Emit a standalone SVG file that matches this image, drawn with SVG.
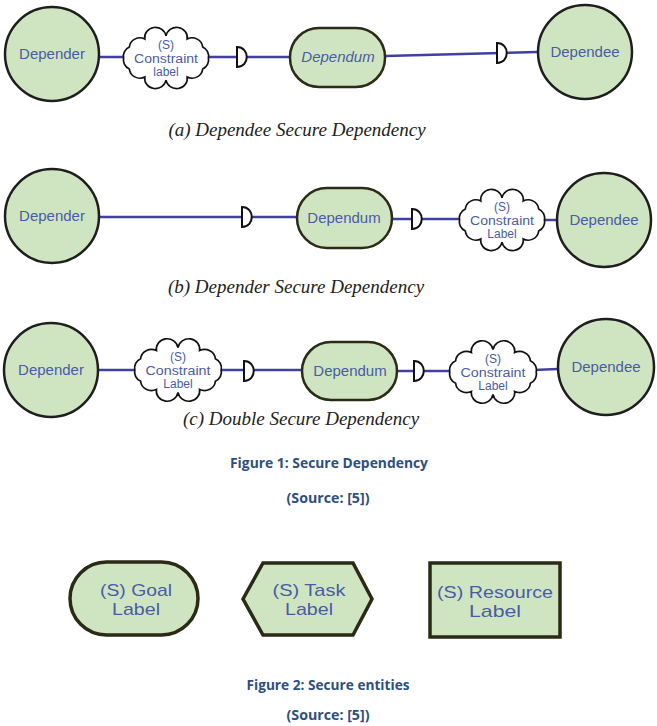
<svg xmlns="http://www.w3.org/2000/svg" xmlns:xlink="http://www.w3.org/1999/xlink" width="657" height="726" viewBox="0 0 657 726">
<style>
.actor{fill:#cfe5c1;stroke:#1e1e1e;stroke-width:2.5}
.dum{fill:#cfe5c1;stroke:#2b2b18;stroke-width:2.5}
.lbl{font-family:"Liberation Sans",Arial,sans-serif;font-size:15px;fill:#4a5ba6;text-anchor:middle}
.cl{font-family:"Liberation Sans",Arial,sans-serif;font-size:12px;fill:#4a5ba6;text-anchor:middle}
.big{font-family:"Liberation Sans",Arial,sans-serif;font-size:17px;fill:#4a5ba6;text-anchor:middle}
.cap{font-family:"Liberation Serif","Times New Roman",serif;font-style:italic;font-size:19px;fill:#222;text-anchor:middle}
.fig{font-family:"Open Sans","Liberation Sans",sans-serif;font-weight:bold;font-size:14px;fill:#2d4f82;text-anchor:middle}
.ln{stroke:#4040a2;stroke-width:2.5;fill:none}
.ent{fill:#cfe5c1;stroke:#2a2a15;stroke-width:3.5}
</style>
<defs>
<path id="cloud" d="M-40,0 A10,10 0 0 1 -34.6,-11 A10,10 0 0 1 -20,-19 A10,10 0 0 1 0,-22 A10,10 0 0 1 20,-19 A10,10 0 0 1 34.6,-11 A10,10 0 0 1 40,0 A10,10 0 0 1 34.6,11 A10,10 0 0 1 20,19 A10,10 0 0 1 0,22 A10,10 0 0 1 -20,19 A10,10 0 0 1 -34.6,11 A10,10 0 0 1 -40,0 Z" fill="#fff" stroke="#111" stroke-width="1.6"/>
<path id="dmark" d="M0,-10 C13,-10 13,10 0,10 Z" fill="#fff" stroke="#111" stroke-width="2"/>
</defs>

<g id="connectors">
<line class="ln" x1="99" y1="57" x2="126" y2="57"/>
<line class="ln" x1="206" y1="57" x2="290" y2="57"/>
<line class="ln" x1="385" y1="56" x2="538" y2="52"/>
<line class="ln" x1="99" y1="217" x2="297" y2="217"/>
<line class="ln" x1="392" y1="219" x2="462" y2="219"/>
<line class="ln" x1="542" y1="220" x2="557" y2="220"/>
<line class="ln" x1="98" y1="370" x2="138" y2="370"/>
<line class="ln" x1="218" y1="370" x2="302" y2="370"/>
<line class="ln" x1="397" y1="371" x2="454" y2="371"/>
<line class="ln" x1="533" y1="370" x2="558" y2="369"/>
<use xlink:href="#dmark" transform="translate(237,57)"/>
<use xlink:href="#dmark" transform="translate(497,53)"/>
<use xlink:href="#dmark" transform="translate(242,217)"/>
<use xlink:href="#dmark" transform="translate(412,219)"/>
<use xlink:href="#dmark" transform="translate(244,371)"/>
<use xlink:href="#dmark" transform="translate(414,371)"/>
</g>

<!-- Row a -->
<g id="a-depender"><circle class="actor" cx="52" cy="54" r="47"/><text class="lbl" x="52" y="59">Depender</text></g>
<g id="a-cloud"><use xlink:href="#cloud" transform="translate(166,58) scale(1.06,1)"/>
<text class="cl" x="166" y="49">(S)</text><text class="cl" x="166" y="62.5" textLength="64" lengthAdjust="spacingAndGlyphs">Constraint</text><text class="cl" x="166" y="76">label</text></g>
<g id="a-dependum"><rect class="dum" x="290" y="28" width="95" height="59" rx="29"/><text class="lbl" x="338" y="62" font-style="italic">Dependum</text></g>
<g id="a-dependee"><circle class="actor" cx="585" cy="52" r="47"/><text class="lbl" x="585" y="57">Dependee</text></g>
<text class="cap" x="297" y="136">(a) Dependee Secure Dependency</text>

<!-- Row b -->
<g id="b-depender"><circle class="actor" cx="52" cy="216" r="47"/><text class="lbl" x="52" y="221">Depender</text></g>
<g id="b-dependum"><rect class="dum" x="297" y="188" width="95" height="60" rx="30"/><text class="lbl" x="344" y="223">Dependum</text></g>
<g id="b-cloud"><use xlink:href="#cloud" transform="translate(502,220) scale(1.06,1)"/>
<text class="cl" x="502" y="211">(S)</text><text class="cl" x="502" y="224.5" textLength="64" lengthAdjust="spacingAndGlyphs">Constraint</text><text class="cl" x="502" y="238">Label</text></g>
<g id="b-dependee"><circle class="actor" cx="604" cy="220" r="47"/><text class="lbl" x="604" y="225">Dependee</text></g>
<text class="cap" x="296" y="293">(b) Depender Secure Dependency</text>

<!-- Row c -->
<g id="c-depender"><circle class="actor" cx="51" cy="370" r="47"/><text class="lbl" x="51" y="375">Depender</text></g>
<g id="c-cloud1"><use xlink:href="#cloud" transform="translate(178,370) scale(1.08,1.02)"/>
<text class="cl" x="178" y="361">(S)</text><text class="cl" x="178" y="374.5" textLength="65" lengthAdjust="spacingAndGlyphs">Constraint</text><text class="cl" x="178" y="388">Label</text></g>
<g id="c-dependum"><rect class="dum" x="302" y="342" width="95" height="58" rx="29"/><text class="lbl" x="350" y="376">Dependum</text></g>
<g id="c-cloud2"><use xlink:href="#cloud" transform="translate(493,372) scale(1.08,1.02)"/>
<text class="cl" x="493" y="363">(S)</text><text class="cl" x="493" y="376.5" textLength="65" lengthAdjust="spacingAndGlyphs">Constraint</text><text class="cl" x="493" y="390">Label</text></g>
<g id="c-dependee"><circle class="actor" cx="606" cy="367" r="48"/><text class="lbl" x="606" y="372">Dependee</text></g>
<text class="cap" x="301" y="425">(c) Double Secure Dependency</text>

<text class="fig" x="329" y="468" textLength="198" lengthAdjust="spacingAndGlyphs">Figure 1: Secure Dependency</text>
<text class="fig" x="328" y="503" textLength="83" lengthAdjust="spacingAndGlyphs">(Source: [5])</text>

<!-- Figure 2 -->
<g id="goal"><rect class="ent" x="70" y="562" width="128" height="73" rx="36.5"/>
<text class="big" x="136" y="596" textLength="72" lengthAdjust="spacingAndGlyphs">(S) Goal</text><text class="big" x="136" y="614.5" textLength="48" lengthAdjust="spacingAndGlyphs">Label</text></g>
<g id="task"><polygon class="ent" points="243,599 263,563 353,563 372,599 353,635 263,635"/>
<text class="big" x="309" y="596" textLength="73" lengthAdjust="spacingAndGlyphs">(S) Task</text><text class="big" x="309" y="614.5" textLength="48" lengthAdjust="spacingAndGlyphs">Label</text></g>
<g id="resource"><rect class="ent" x="430" y="563" width="130" height="74" stroke-width="4.5"/>
<text class="big" x="495" y="598" textLength="116" lengthAdjust="spacingAndGlyphs">(S) Resource</text><text class="big" x="495" y="616.5" textLength="52" lengthAdjust="spacingAndGlyphs">Label</text></g>

<text class="fig" x="328" y="690" textLength="163" lengthAdjust="spacingAndGlyphs">Figure 2: Secure entities</text>
<text class="fig" x="328" y="720" textLength="83" lengthAdjust="spacingAndGlyphs">(Source: [5])</text>
</svg>
